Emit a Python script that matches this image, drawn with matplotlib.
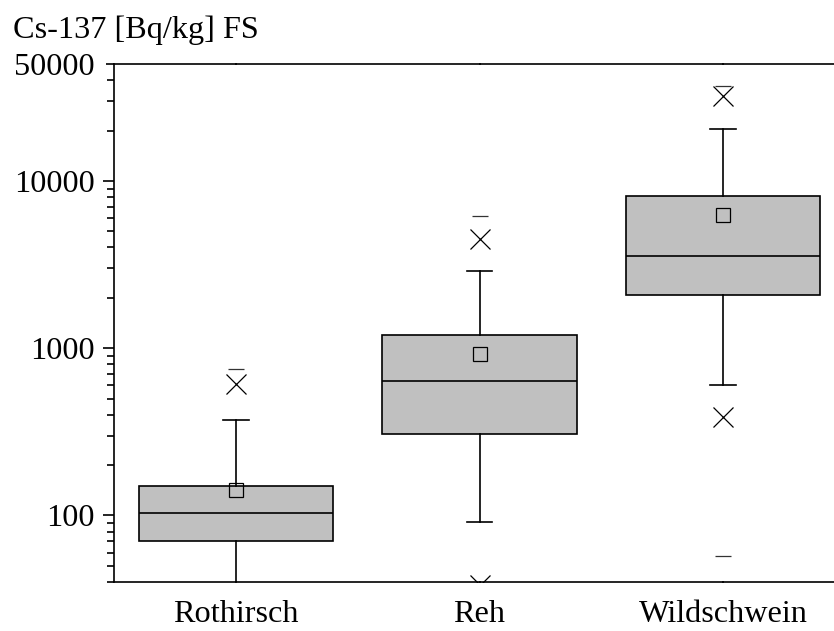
import matplotlib
matplotlib.use("Agg")
import matplotlib.pyplot as plt
from matplotlib.ticker import FixedLocator, NullFormatter

plt.rcParams['font.family'] = ['Liberation Serif', 'DejaVu Serif']

# ---- data ----
categories = ["Rothirsch", "Reh", "Wildschwein"]
q1 = [70.5, 308, 2076]
median = [103, 637, 3555]
q3 = [151, 1191, 8130]
whisker_low = [30, 91, 600]
whisker_high = [372, 2904, 20460]
mean = [142, 929, 6255]
pct_low = [20, 38.4, 390]       # lower X markers
pct_high = [608, 4510, 32000]   # upper X markers
minimum = [15, 20, 57.6]        # lower dash markers
maximum = [748, 6150, 36700]    # upper dash markers

ytick_values = [100, 1000, 10000, 50000]
ytick_labels = ["100", "1000", "10000", "50000"]
yminor_values = [40, 50, 60, 70, 80, 90, 200, 300, 400, 500, 600, 700, 800, 900,
                 2000, 3000, 4000, 5000, 6000, 7000, 8000, 9000, 20000, 30000, 40000]

W, H = 834, 631
fig = plt.figure(figsize=(W / 100, H / 100), dpi=100)
ax = fig.add_axes([114.25 / W, (H - 582) / H, 730.5 / W, (582 - 64) / H])

positions = [1, 2, 3]
stats = []
for i, c in enumerate(categories):
    stats.append(dict(label=c, q1=q1[i], med=median[i], q3=q3[i],
                      whislo=whisker_low[i], whishi=whisker_high[i],
                      mean=mean[i], fliers=[]))

lw = 1.2
fs = 23.2
ax.bxp(stats, positions=positions, widths=0.8, patch_artist=True,
       showmeans=True, showfliers=False,
       boxprops=dict(facecolor='#c0c0c0', edgecolor='black', linewidth=lw),
       medianprops=dict(color='black', linewidth=lw),
       whiskerprops=dict(color='black', linewidth=lw),
       capprops=dict(color='black', linewidth=lw),
       capwidths=0.105,
       meanprops=dict(marker='s', markerfacecolor='none', markeredgecolor='black',
                      markersize=10.5, markeredgewidth=0.9))

ax.plot(positions, pct_high, linestyle='none', marker='x', color='black',
        markersize=14, markeredgewidth=0.9)
ax.plot(positions, pct_low, linestyle='none', marker='x', color='black',
        markersize=14, markeredgewidth=0.9)
ax.plot(positions, maximum, linestyle='none', marker='_', color='#333333',
        markersize=11.5, markeredgewidth=0.9)
ax.plot(positions, minimum, linestyle='none', marker='_', color='#333333',
        markersize=11.5, markeredgewidth=0.9)

ax.set_yscale('log')
ax.set_ylim(40, 50000)
ax.set_xlim(0.5, 3.5)

ax.yaxis.set_major_locator(FixedLocator(ytick_values))
ax.set_yticklabels(ytick_labels)
ax.yaxis.set_minor_locator(FixedLocator(yminor_values))
ax.yaxis.set_minor_formatter(NullFormatter())
ax.tick_params(axis='y', which='major', direction='out', length=8, width=lw,
               labelsize=fs, pad=6)
ax.tick_params(axis='y', which='minor', direction='out', length=5, width=lw)
# 50000 tick is shorter, like minor ticks
ax.yaxis.get_major_ticks()[3].tick1line.set_markersize(5.5)

ax.set_xticks(positions)
ax.set_xticklabels(categories)
ax.tick_params(axis='x', which='both', direction='inout', length=2, width=lw,
               top=True, labelsize=fs, pad=12)

for s in ['left', 'top', 'bottom', 'right']:
    ax.spines[s].set_linewidth(lw)

fig.text(13 / W, 1 - 38 / H, "Cs-137 [Bq/kg] FS", fontsize=fs,
         ha='left', va='baseline')

fig.savefig("out.png", dpi=100)
